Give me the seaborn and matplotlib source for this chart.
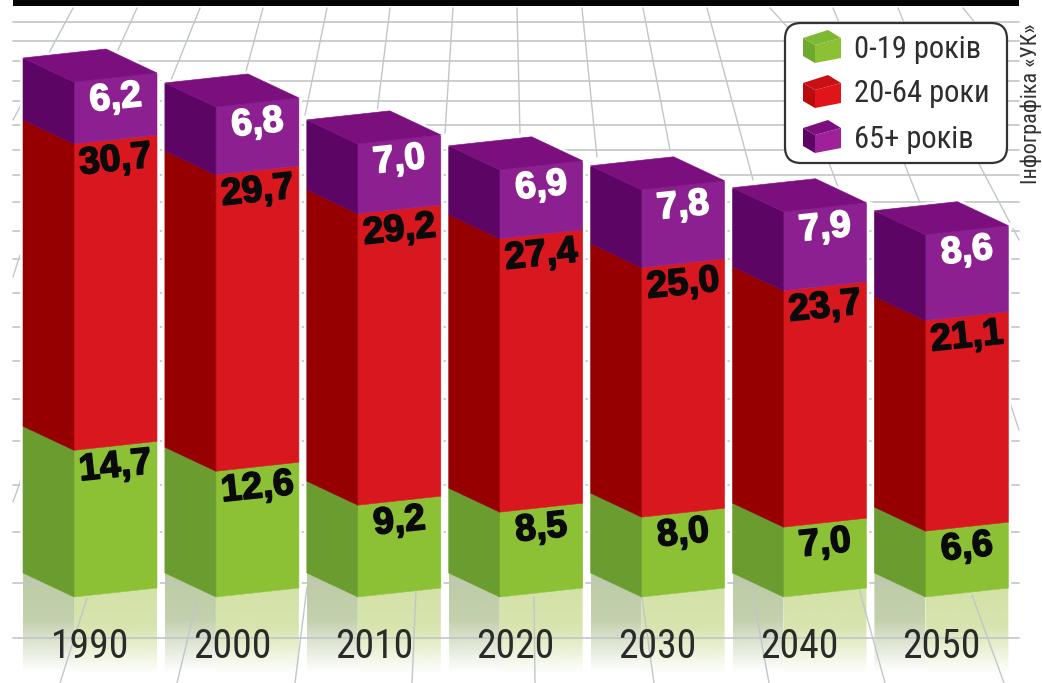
import numpy as np
import matplotlib
matplotlib.use("Agg")
import matplotlib.pyplot as plt
import matplotlib.patheffects as pe
from matplotlib.patches import Polygon, FancyBboxPatch, Rectangle
from matplotlib.transforms import Affine2D
import seaborn as sns

years = ["1990", "2000", "2010", "2020", "2030", "2040", "2050"]
young = [14.7, 12.6, 9.2, 8.5, 8.0, 7.0, 6.6]
adult = [30.7, 29.7, 29.2, 27.4, 25.0, 23.7, 21.1]
old = [6.2, 6.8, 7.0, 6.9, 7.8, 7.9, 8.6]
legend_labels = ["0-19 років", "20-64 роки", "65+ років"]
credit = "Інфографіка «УК»"

FRONT = ["#8cc136", "#d8171f", "#8d2090"]
SIDE = ["#6b9c2f", "#960000", "#5c0564"]
TOP = "#7b0f7e"
NARROW = ["Roboto Condensed", "Liberation Sans"]
HEAVY = ["Liberation Sans"]

W, H = 1042, 683
PX_CAT, PX_UNIT = 141.9, 9.98
X0_PX, Y0_PX = 115.5, 597.0
BAR_W = 83 / PX_CAT
DX, DY = -51 / PX_CAT, 24 / PX_UNIT
K = (9 / PX_UNIT) / BAR_W

sns.set_theme(style="white")
plt.rcParams["font.family"] = NARROW
fig = plt.figure(figsize=(W / 100, H / 100), dpi=100, facecolor="white")
bg = fig.add_axes([0, 0, 1, 1], zorder=0)
bg.set_xlim(0, W)
bg.set_ylim(H, 0)
bg.set_axis_off()
ax = fig.add_axes([0, 0, 1, 1], zorder=1)
ax.patch.set_alpha(0)
px = bg.transData

# background perspective grid
h_lines = [22, 41, 61, 81, 101, 125, 150, 175, 202, 231, 259, 293, 327, 361, 399, 441, 485, 532, 583, 638]
for y in h_lines:
    ax.plot([13, 1019], [y, y], color="#c2c6c6", lw=1.2, transform=px, zorder=0.8)
rays = [((73, 8), (13, 120)), ((137, 8), (118, 50)), ((200, 8), (163, 100)), ((263, 8), (245, 75)),
        ((327, 8), (305, 115)), ((390, 8), (377, 113)), ((453, 8), (445, 133)), ((517, 8), (520, 133)),
        ((582, 8), (597, 157)), ((643, 8), (670, 150)), ((707, 8), (753, 180)), ((770, 8), (790, 30)),
        ((833, 8), (840, 25)), ((898, 8), (905, 25)), ((963, 8), (985, 35)), ((828, 160), (838, 187)),
        ((903, 160), (920, 203)), ((977, 160), (1019, 240)), ((1009, 400), (1019, 430)),
        ((20, 255), (13, 277)), ((22, 477), (13, 502)),
        ((87, 598), (60, 683)), ((197, 600), (177, 683)), ((307, 587), (295, 683)), ((416, 590), (412, 683)),
        ((534, 597), (535, 683)), ((642, 597), (654, 683)), ((752, 590), (769, 683)),
        ((859, 588), (885, 683)), ((972, 595), (1004, 683))]
for a, b in rays:
    ax.plot([a[0], b[0]], [a[1], b[1]], color="#c0c6cc", lw=1.0, transform=px, zorder=0.9)

# stacked front faces
bottoms = np.zeros(len(years))
containers = []
for vals, col in zip([young, adult, old], FRONT):
    sns.barplot(x=years, y=vals, bottom=bottoms, color=col, saturation=1, width=BAR_W,
                errorbar=None, ax=ax, order=years)
    containers.append(ax.containers[-1])
    bottoms = bottoms + np.array(vals)

y_floor = (Y0_PX - H) / PX_UNIT
ramp = np.interp(np.linspace(0, 1, 256), [0, 0.42, 0.9, 1], [1, 0.9, 0, 0])


def fade(color, poly, y_top):
    rgba = np.ones((256, 1, 4))
    rgba[..., :3] = matplotlib.colors.to_rgb(color)
    rgba[..., 3] = ramp[:, None]
    im = ax.imshow(rgba, extent=(poly[:, 0].min(), poly[:, 0].max(), y_floor, y_top), aspect="auto",
                   origin="upper", zorder=0.5, interpolation="bilinear")
    clip = Polygon(poly, transform=ax.transData, fc="none", ec="none")
    ax.add_patch(clip)
    im.set_clip_path(clip)


for s, cont in enumerate(containers):
    for bar in cont:
        x0, y0, w, h = bar.get_x(), bar.get_y(), bar.get_width(), bar.get_height()
        shear = Affine2D.from_values(1, K, 0, 1, 0, -K * x0)
        bar.set_transform(shear + ax.transData)
        bar.set_zorder(3 + s * 0.1)
        bar.set_edgecolor(FRONT[s])
        bar.set_linewidth(0.4)
        side_pts = [(x0, y0), (x0, y0 + h), (x0 + DX, y0 + h + DY), (x0 + DX, y0 + DY)]
        ax.add_patch(Polygon(side_pts, fc=SIDE[s], ec=SIDE[s], lw=0.4, zorder=3 + s * 0.1))
        # pale halo that lifts the column off the grid, kept clear of the floor
        inset = 0.6 if s == 0 else 0
        halo_side = [(x0, y0 + inset), (x0, y0 + h), (x0 + DX, y0 + h + DY), (x0 + DX, y0 + DY + inset)]
        halo_front = [(x0, y0 + inset), (x0, y0 + h), (x0 + w, y0 + h + K * w), (x0 + w, y0 + K * w + inset)]
        ax.add_patch(Polygon(halo_side, fc="white", ec="white", lw=4, zorder=1.5))
        ax.add_patch(Polygon(halo_front, fc="white", ec="white", lw=4, zorder=1.5))
        if s == 2:
            T = y0 + h
            top = [(x0, T), (x0 + w, T + K * w), (x0 + w + DX, T + K * w + DY), (x0 + DX, T + DY)]
            outline = [(x0 + DX, T + DY), (x0 + w + DX, T + K * w + DY), (x0 + w, T + K * w)]
            ax.add_patch(Polygon(top, fc="white", ec="white", lw=4, zorder=1.5))
            ax.add_patch(Polygon(top, fc=TOP, ec=TOP, lw=0.4, zorder=3.4))
            ax.plot([p[0] for p in outline], [p[1] for p in outline], color="#f3d9f3", lw=1.0, zorder=3.3)
        if s == 0:
            fade("#d3e2a6", np.array([(x0, 0), (x0 + w, K * w), (x0 + w, y_floor), (x0, y_floor)]), K * w)
            fade("#bccba4", np.array([(x0 + DX, DY), (x0, 0), (x0, y_floor), (x0 + DX, y_floor)]), DY)

# value labels
level = np.zeros(len(years))
for s, vals in enumerate([young, adult, old]):
    level = level + np.array(vals)
    col = "white" if s == 2 else "#0a0a0a"
    for i, v in enumerate(vals):
        t = ax.text(i, level[i] + K * BAR_W / 2 - 2.1, f"{v:.1f}".replace(".", ","), ha="center", va="center",
                    rotation=6, rotation_mode="anchor", color=col, fontsize=27, fontweight="bold",
                    family=HEAVY, zorder=5)
        t.set_path_effects([pe.withStroke(linewidth=1.2, foreground=col)])

# year labels
for i, yr in enumerate(years):
    ax.text(i + DX / 2, (Y0_PX - 647) / PX_UNIT, yr, ha="center", va="center",
            fontsize=28.5, color="#2a2a2a", zorder=5)

ax.set_xlim(-X0_PX / PX_CAT, (W - X0_PX) / PX_CAT)
ax.set_ylim((Y0_PX - H) / PX_UNIT, Y0_PX / PX_UNIT)
ax.set_axis_off()

# top rule
ax.add_patch(Rectangle((13, 0), 1006, 6, fc="#050505", ec="none", transform=px, zorder=6))

# legend
ax.add_patch(FancyBboxPatch((799, 34), 196, 117, boxstyle="round,pad=12,rounding_size=16", fc="#777777", ec="none",
                            alpha=0.35, transform=px, zorder=5.9))
ax.add_patch(FancyBboxPatch((797, 35), 198, 116, boxstyle="round,pad=12,rounding_size=16", fc="white",
                            ec="#333333", lw=1.6, transform=px, zorder=6))
icon_front = ["#8cc136", "#e01519", "#a0209a"]
icon_side = ["#6fa82f", "#b80c10", "#5c0564"]
icon_top = ["#7fb832", "#c81015", "#7b0f7e"]
for n, lab in enumerate(legend_labels):
    o = 45 * n
    ax.add_patch(Polygon([(803, 38 + o), (815, 45 + o), (815, 63 + o), (803, 56 + o)], fc=icon_side[n], ec="none", transform=px, zorder=6.2))
    ax.add_patch(Polygon([(815, 45 + o), (841, 38 + o), (841, 58 + o), (815, 63 + o)], fc=icon_front[n], ec="none", transform=px, zorder=6.2))
    ax.add_patch(Polygon([(803, 38 + o), (828, 30 + o), (841, 38 + o), (815, 45 + o)], fc=icon_top[n], ec="none", transform=px, zorder=6.2))
    ax.text(854, 49 + o, lab, transform=px, ha="left", va="center", fontsize=22, color="#2e2e2e", zorder=6.3)

ax.text(1031, 104, credit, transform=px, rotation=90, ha="center", va="center", fontsize=16, color="#333333", zorder=6)

fig.savefig("out.png", dpi=100)
